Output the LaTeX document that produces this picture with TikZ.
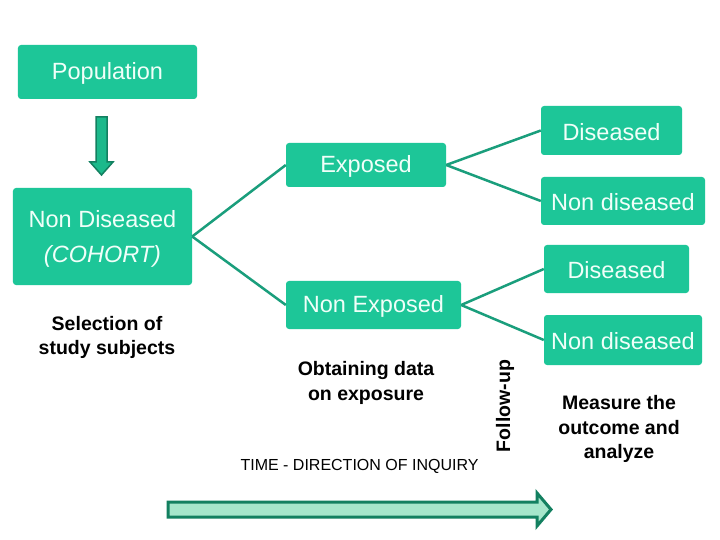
\documentclass[tikz,border=0pt]{standalone}
\usepackage{fontspec}
\setmainfont{Liberation Sans}
\definecolor{boxgreen}{HTML}{1DC698}
\definecolor{linegreen}{HTML}{1A9E7C}
\definecolor{arrowfill}{HTML}{1CB98B}
\definecolor{arrowline}{HTML}{138060}
\definecolor{lightfill}{HTML}{A6E6CB}
\definecolor{boxtext}{HTML}{F0FFF9}
\begin{document}
\begin{tikzpicture}[x=1bp,y=-1bp,
  gbox/.style={fill=boxgreen,rounded corners=3bp,inner sep=0pt},
  btxt/.style={text=boxtext,font=\fontsize{23.5bp}{27bp}\selectfont,yshift=-1.5bp},
  note/.style={font=\fontsize{19.5bp}{24.5bp}\selectfont\bfseries,align=center,text=black},
  conn/.style={draw=linegreen,line width=2.5bp}]
\useasboundingbox (0,0) rectangle (720,540);
\fill[white] (0,0) rectangle (720,540);
% boxes
\node[gbox,minimum width=179bp,minimum height=54bp] (pop) at (107.5,72) {};
\node[btxt] at (pop) {Population};
\node[gbox,minimum width=179bp,minimum height=97bp] (nd) at (102.5,236.5) {};
\node[btxt] at (102.5,218) {Non Diseased};
\node[btxt,font=\fontsize{23.5bp}{27bp}\selectfont\itshape] at (102.5,255) {(COHORT)};
\node[gbox,minimum width=160bp,minimum height=44bp] (exp) at (366,165) {};
\node[btxt] at (exp) {Exposed};
\node[gbox,minimum width=175bp,minimum height=48bp] (nexp) at (373.5,305) {};
\node[btxt] at (nexp) {Non Exposed};
\node[gbox,minimum width=141bp,minimum height=49bp] (d1) at (611.5,130.5) {};
\node[btxt] at (d1) {Diseased};
\node[gbox,minimum width=164bp,minimum height=48bp] (n1) at (623,201) {};
\node[btxt] at (n1) {Non diseased};
\node[gbox,minimum width=145bp,minimum height=48bp] (d2) at (616.5,269) {};
\node[btxt] at (d2) {Diseased};
\node[gbox,minimum width=158bp,minimum height=50bp] (n2) at (623,340) {};
\node[btxt] at (n2) {Non diseased};
% connectors
\draw[conn] (nd.east) -- (exp.west);
\draw[conn] (nd.east) -- (nexp.west);
\draw[conn] (exp.east) -- (d1.west);
\draw[conn] (exp.east) -- (n1.west);
\draw[conn] (nexp.east) -- (d2.west);
\draw[conn] (nexp.east) -- (n2.west);
% down arrow
\draw[fill=arrowfill,draw=arrowline,line width=1.5bp,line join=miter]
  (96,117) -- (107,117) -- (107,162) -- (113,162) -- (101.5,175) -- (90,162) -- (96,162) -- cycle;
% notes
\node[note] (sel) at (107,337.5) {Selection of\\study subjects};
\node[note] (obt) at (366,383) {Obtaining data\\on exposure};
\node[note,rotate=90] (fol) at (505,406) {Follow-up};
\node[note] (mea) at (619,429) {Measure the\\outcome and\\analyze};
\node[font=\fontsize{16bp}{19bp}\selectfont] (time) at (359.5,466) {TIME - DIRECTION OF INQUIRY};
% time arrow
\draw[fill=lightfill,draw=arrowline,line width=3bp,line join=miter]
  (168,502) -- (537,502) -- (537,493) -- (551,509.5) -- (537,526) -- (537,517) -- (168,517) -- cycle;
\end{tikzpicture}
\end{document}
